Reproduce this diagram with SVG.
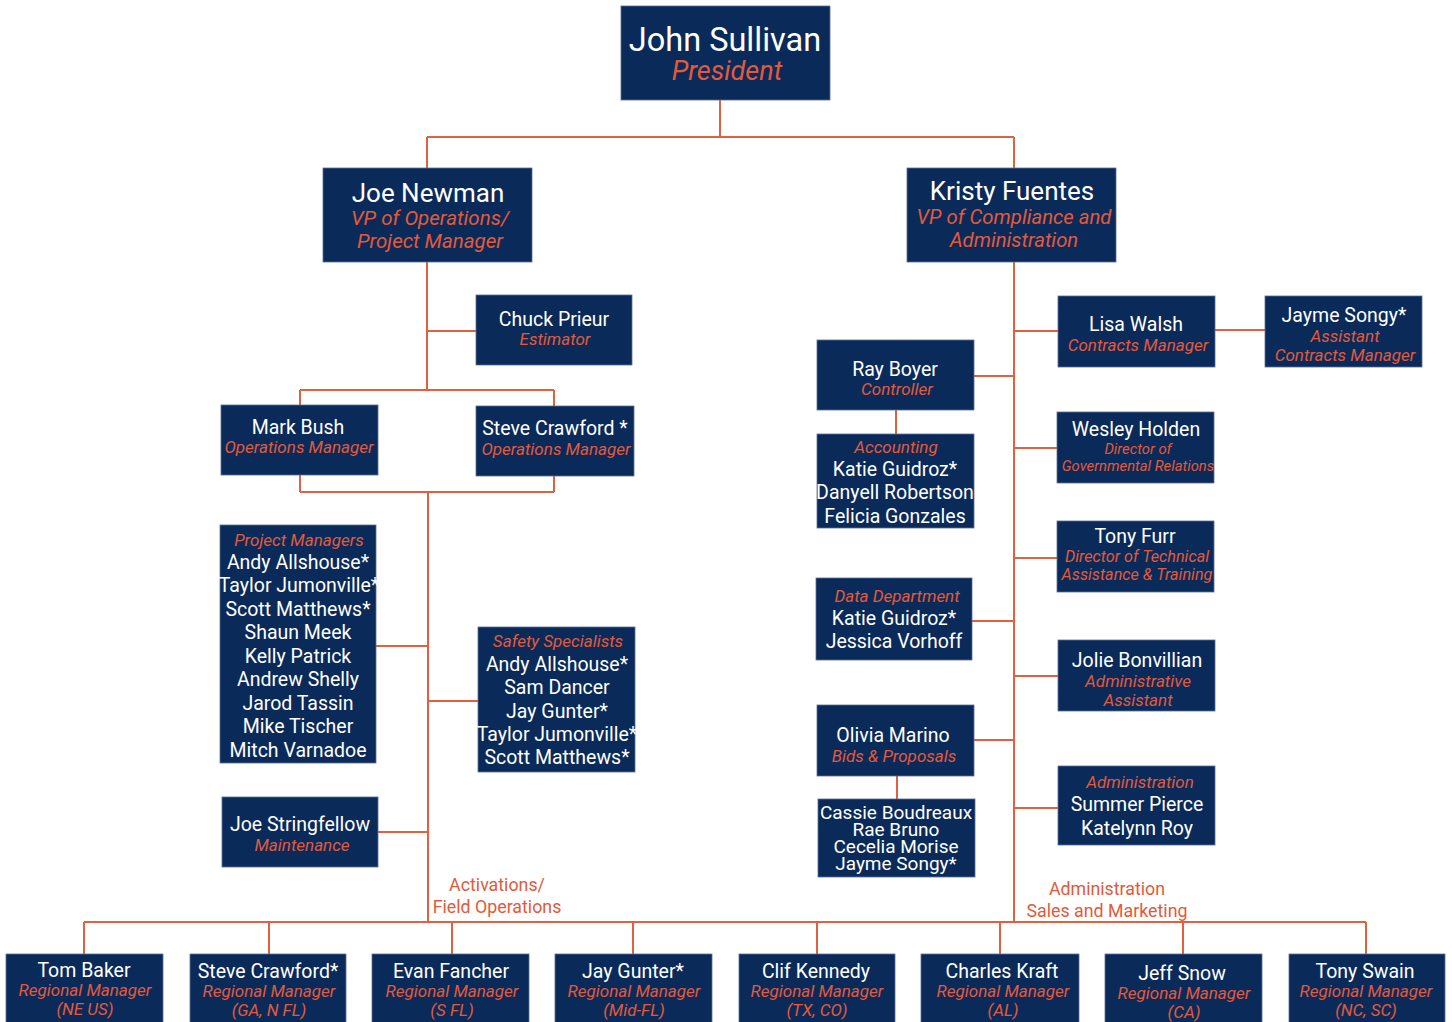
<svg xmlns="http://www.w3.org/2000/svg" width="1452" height="1022" viewBox="0 0 1452 1022">
<style>
.box{fill:#0a2a5a;stroke:#5a6f95;stroke-width:0.8}
.n{font-family:Roboto,"Liberation Sans",sans-serif;fill:#ffffff;text-anchor:middle;font-size:19.5px}
.t{font-family:Roboto,"Liberation Sans",sans-serif;fill:#e25a3a;font-style:italic;text-anchor:middle;font-size:17px}
.lbl{font-family:Roboto,"Liberation Sans",sans-serif;fill:#e25a3a;text-anchor:middle;font-size:17.8px}
.c{stroke:#e0603f;stroke-width:2;fill:none}
</style>
<rect width="1452" height="1022" fill="#ffffff"/>
<g id="connectors">
<path class="c" d="M720 100V137M427 137H1014M427 137V168M1014 137V168"/>
<path class="c" d="M427 262V390M427 331H476M300 390H554M300 390V405M554 390V406"/>
<path class="c" d="M300 475V492M554 476V492M300 492H554M428 492V922"/>
<path class="c" d="M376 646H428M428 701H478M378 832H428"/>
<path class="c" d="M1014 262V922M1014 331H1058M1215 330H1265M974 376H1014M896 410V434M1014 448H1057M1014 558H1057M972 621H1014M1014 676H1058M974 740H1014M897 776V799M1014 808H1058"/>
<path class="c" d="M84 922H1366M84 922V954M269 922V954M452 922V954M633 922V954M817 922V954M1000 922V954M1183 922V954M1366 922V954"/>
</g>
<g id="labels">
<text class="lbl" x="497" y="891">Activations/</text>
<text class="lbl" x="497" y="913">Field Operations</text>
<text class="lbl" x="1107" y="895">Administration</text>
<text class="lbl" x="1107" y="917">Sales and Marketing</text>
</g>
<g id="john-sullivan">
<rect class="box" x="621" y="6" width="209" height="94"/>
<text class="n" x="725" y="51" style="font-size:32.5px">John Sullivan</text>
<text class="t" x="727" y="80" style="font-size:27px">President</text>
</g>
<g id="joe-newman">
<rect class="box" x="323" y="168" width="209" height="94"/>
<text class="n" x="428" y="202" style="font-size:26px">Joe Newman</text>
<text class="t" x="430" y="225" style="font-size:20.5px">VP of Operations/</text>
<text class="t" x="430" y="248" style="font-size:20.5px">Project Manager</text>
</g>
<g id="kristy-fuentes">
<rect class="box" x="907" y="168" width="209" height="94"/>
<text class="n" x="1012" y="200" style="font-size:26px">Kristy Fuentes</text>
<text class="t" x="1014" y="224" style="font-size:20.3px">VP of Compliance and</text>
<text class="t" x="1014" y="247" style="font-size:20.3px">Administration</text>
</g>
<g id="chuck-prieur">
<rect class="box" x="476" y="295" width="156" height="70"/>
<text class="n" x="554" y="326">Chuck Prieur</text>
<text class="t" x="555" y="345">Estimator</text>
</g>
<g id="mark-bush">
<rect class="box" x="221" y="405" width="157" height="70"/>
<text class="n" x="298" y="434">Mark Bush</text>
<text class="t" x="299" y="453">Operations Manager</text>
</g>
<g id="steve-crawford-ops">
<rect class="box" x="476" y="406" width="158" height="70"/>
<text class="n" x="555" y="435">Steve Crawford *</text>
<text class="t" x="556" y="455">Operations Manager</text>
</g>
<g id="project-managers">
<rect class="box" x="220" y="525" width="156" height="238"/>
<text class="t" x="299" y="546">Project Managers</text>
<text class="n" x="298" y="569">Andy Allshouse*</text>
<text class="n" x="299" y="592">Taylor Jumonville*</text>
<text class="n" x="298" y="616">Scott Matthews*</text>
<text class="n" x="298" y="639">Shaun Meek</text>
<text class="n" x="298" y="663">Kelly Patrick</text>
<text class="n" x="298" y="686">Andrew Shelly</text>
<text class="n" x="298" y="710">Jarod Tassin</text>
<text class="n" x="298" y="733">Mike Tischer</text>
<text class="n" x="298" y="757">Mitch Varnadoe</text>
</g>
<g id="safety-specialists">
<rect class="box" x="478" y="627" width="157" height="145"/>
<text class="t" x="558" y="647">Safety Specialists</text>
<text class="n" x="557" y="671">Andy Allshouse*</text>
<text class="n" x="557" y="694">Sam Dancer</text>
<text class="n" x="557" y="718">Jay Gunter*</text>
<text class="n" x="557" y="741">Taylor Jumonville*</text>
<text class="n" x="557" y="764">Scott Matthews*</text>
</g>
<g id="joe-stringfellow">
<rect class="box" x="222" y="797" width="156" height="70"/>
<text class="n" x="300" y="831">Joe Stringfellow</text>
<text class="t" x="302" y="851">Maintenance</text>
</g>
<g id="lisa-walsh">
<rect class="box" x="1058" y="296" width="157" height="71"/>
<text class="n" x="1136" y="331">Lisa Walsh</text>
<text class="t" x="1138" y="351">Contracts Manager</text>
</g>
<g id="jayme-songy">
<rect class="box" x="1265" y="296" width="157" height="71"/>
<text class="n" x="1344" y="322">Jayme Songy*</text>
<text class="t" x="1345" y="342">Assistant</text>
<text class="t" x="1345" y="361">Contracts Manager</text>
</g>
<g id="ray-boyer">
<rect class="box" x="817" y="340" width="157" height="70"/>
<text class="n" x="895" y="376">Ray Boyer</text>
<text class="t" x="897" y="395">Controller</text>
</g>
<g id="accounting">
<rect class="box" x="817" y="434" width="157" height="94"/>
<text class="t" x="896" y="453">Accounting</text>
<text class="n" x="895" y="476">Katie Guidroz*</text>
<text class="n" x="895" y="499">Danyell Robertson</text>
<text class="n" x="895" y="523">Felicia Gonzales</text>
</g>
<g id="wesley-holden">
<rect class="box" x="1057" y="412" width="157" height="71"/>
<text class="n" x="1136" y="436">Wesley Holden</text>
<text class="t" x="1138" y="454" style="font-size:14.8px">Director of</text>
<text class="t" x="1138" y="471" style="font-size:14.8px">Governmental Relations</text>
</g>
<g id="tony-furr">
<rect class="box" x="1057" y="521" width="157" height="71"/>
<text class="n" x="1135" y="543">Tony Furr</text>
<text class="t" x="1137" y="562" style="font-size:16.2px">Director of Technical</text>
<text class="t" x="1137" y="580" style="font-size:16.2px">Assistance &amp; Training</text>
</g>
<g id="data-department">
<rect class="box" x="816" y="578" width="156" height="82"/>
<text class="t" x="897" y="602">Data Department</text>
<text class="n" x="894" y="625">Katie Guidroz*</text>
<text class="n" x="894" y="648">Jessica Vorhoff</text>
</g>
<g id="jolie-bonvillian">
<rect class="box" x="1058" y="640" width="157" height="71"/>
<text class="n" x="1137" y="667">Jolie Bonvillian</text>
<text class="t" x="1138" y="687">Administrative</text>
<text class="t" x="1138" y="706">Assistant</text>
</g>
<g id="olivia-marino">
<rect class="box" x="817" y="705" width="157" height="71"/>
<text class="n" x="893" y="742">Olivia Marino</text>
<text class="t" x="894" y="762">Bids &amp; Proposals</text>
</g>
<g id="cassie-group">
<rect class="box" x="818" y="799" width="157" height="78"/>
<text class="n" x="896" y="819" style="font-size:19px">Cassie Boudreaux</text>
<text class="n" x="896" y="836" style="font-size:19px">Rae Bruno</text>
<text class="n" x="896" y="853" style="font-size:19px">Cecelia Morise</text>
<text class="n" x="896" y="870" style="font-size:19px">Jayme Songy*</text>
</g>
<g id="administration">
<rect class="box" x="1058" y="766" width="157" height="79"/>
<text class="t" x="1140" y="788">Administration</text>
<text class="n" x="1137" y="811">Summer Pierce</text>
<text class="n" x="1137" y="835">Katelynn Roy</text>
</g>
<g id="tom-baker">
<rect class="box" x="6" y="954" width="157" height="70"/>
<text class="n" x="84" y="977">Tom Baker</text>
<text class="t" x="85" y="996">Regional Manager</text>
<text class="t" x="85" y="1015">(NE US)</text>
</g>
<g id="steve-crawford-rm">
<rect class="box" x="190" y="954" width="156" height="70"/>
<text class="n" x="268" y="978">Steve Crawford*</text>
<text class="t" x="269" y="997">Regional Manager</text>
<text class="t" x="269" y="1016">(GA, N FL)</text>
</g>
<g id="evan-fancher">
<rect class="box" x="372" y="954" width="157" height="70"/>
<text class="n" x="451" y="978">Evan Fancher</text>
<text class="t" x="452" y="997">Regional Manager</text>
<text class="t" x="452" y="1016">(S FL)</text>
</g>
<g id="jay-gunter">
<rect class="box" x="555" y="954" width="157" height="70"/>
<text class="n" x="633" y="978">Jay Gunter*</text>
<text class="t" x="634" y="997">Regional Manager</text>
<text class="t" x="634" y="1016">(Mid-FL)</text>
</g>
<g id="clif-kennedy">
<rect class="box" x="739" y="954" width="156" height="70"/>
<text class="n" x="816" y="978">Clif Kennedy</text>
<text class="t" x="817" y="997">Regional Manager</text>
<text class="t" x="817" y="1016">(TX, CO)</text>
</g>
<g id="charles-kraft">
<rect class="box" x="921" y="954" width="158" height="70"/>
<text class="n" x="1002" y="978">Charles Kraft</text>
<text class="t" x="1003" y="997">Regional Manager</text>
<text class="t" x="1003" y="1016">(AL)</text>
</g>
<g id="jeff-snow">
<rect class="box" x="1105" y="954" width="157" height="70"/>
<text class="n" x="1182" y="980">Jeff Snow</text>
<text class="t" x="1184" y="999">Regional Manager</text>
<text class="t" x="1184" y="1018">(CA)</text>
</g>
<g id="tony-swain">
<rect class="box" x="1289" y="954" width="156" height="70"/>
<text class="n" x="1365" y="978">Tony Swain</text>
<text class="t" x="1366" y="997">Regional Manager</text>
<text class="t" x="1366" y="1016">(NC, SC)</text>
</g>
</svg>
